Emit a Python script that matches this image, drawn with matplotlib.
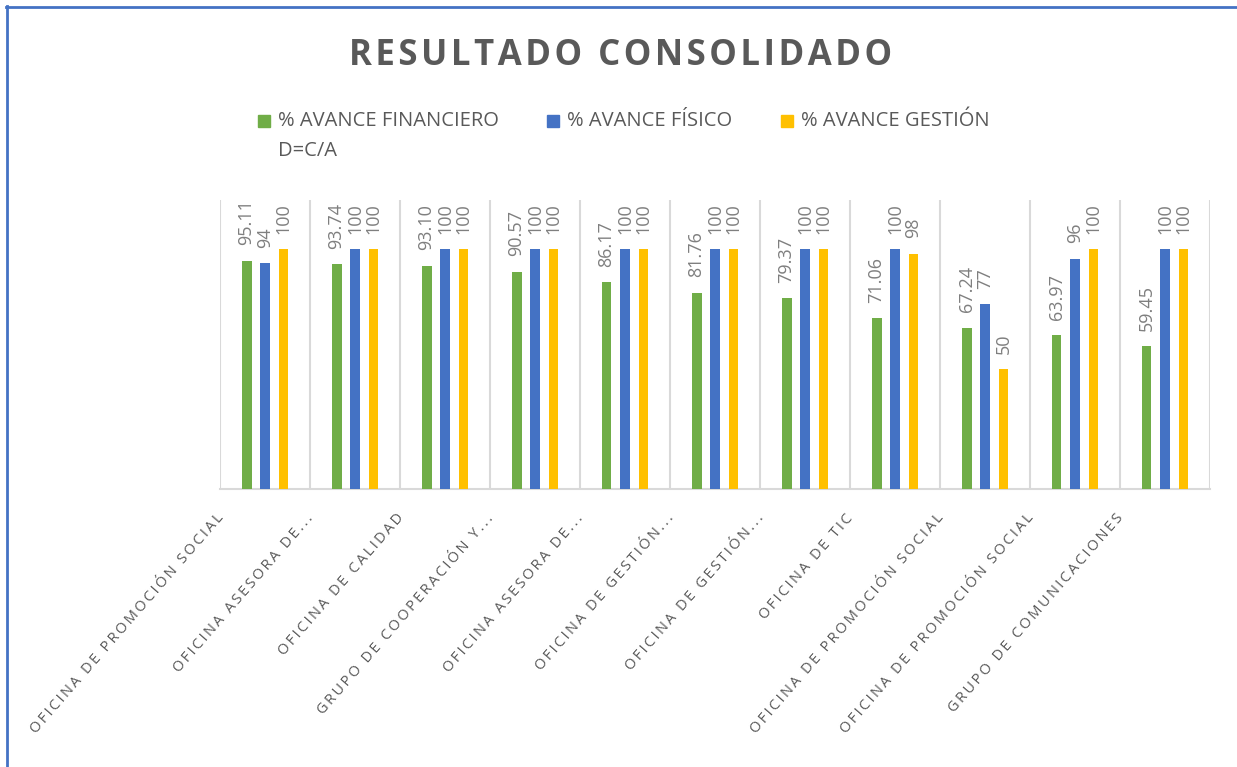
import numpy as np
import matplotlib.pyplot as plt
import matplotlib.transforms as mtransforms
from matplotlib.patches import Rectangle
from matplotlib.lines import Line2D

plt.rcParams['font.family'] = ['Open Sans', 'DejaVu Sans']

# Datos del gráfico
categorias = [
    'OFICINA DE PROMOCIÓN SOCIAL',
    'OFICINA ASESORA DE...',
    'OFICINA DE CALIDAD',
    'GRUPO DE COOPERACIÓN Y...',
    'OFICINA ASESORA DE...',
    'OFICINA DE GESTIÓN...',
    'OFICINA DE GESTIÓN...',
    'OFICINA DE TIC',
    'OFICINA DE PROMOCIÓN SOCIAL',
    'OFICINA DE PROMOCIÓN SOCIAL',
    'GRUPO DE COMUNICACIONES',
]
avance_financiero = [95.11, 93.74, 93.10, 90.57, 86.17, 81.76, 79.37, 71.06, 67.24, 63.97, 59.45]
avance_fisico = [94, 100, 100, 100, 100, 100, 100, 100, 77, 96, 100]
avance_gestion = [100, 100, 100, 100, 100, 100, 100, 98, 50, 100, 100]

series = [
    ('% AVANCE FINANCIERO\nD=C/A', avance_financiero, '#70AD47', '{:.2f}'),
    ('% AVANCE FÍSICO', avance_fisico, '#4472C4', '{:.0f}'),
    ('% AVANCE GESTIÓN', avance_gestion, '#FFC000', '{:.0f}'),
]

gris = '#595959'

fig = plt.figure(figsize=(12.37, 7.67), dpi=100)
ax = fig.add_axes([220 / 1237, 1 - 489 / 767, 990 / 1237, 289 / 767])

x = np.arange(len(categorias))
offsets = [-0.205, 0.0, 0.205]
for (nombre, vals, color, fmt), off in zip(series, offsets):
    barras = ax.bar(x + off, vals, width=0.11, color=color, zorder=3)
    ax.bar_label(barras, fmt=fmt, rotation=90, padding=11, fontsize=13,
                 color='#7F7F7F')

ax.set_xlim(-0.5, len(categorias) - 0.5)
ax.set_ylim(0, 120.4)
ax.set_yticks([])

# líneas verticales entre categorías
ax.set_xticks(np.arange(-0.5, len(categorias)), minor=True)
ax.grid(True, which='minor', axis='x', color='#D9D9D9', linewidth=1.5, zorder=0)
ax.tick_params(axis='x', which='both', length=0)
for s in ['top', 'left', 'right']:
    ax.spines[s].set_visible(False)
ax.spines['bottom'].set_color('#D9D9D9')
ax.spines['bottom'].set_linewidth(1.5)

# etiquetas del eje con espaciado entre letras
espaciadas = ['\u2009'.join(c) for c in categorias]
ax.set_xticks(x)
ax.set_xticklabels(espaciadas, rotation=49, ha='right', va='center',
                   rotation_mode='anchor', fontsize=10.5, color=gris)
desplazar = mtransforms.ScaledTranslation(-0.44, -0.22, fig.dpi_scale_trans)
for lbl in ax.get_xticklabels():
    lbl.set_transform(lbl.get_transform() + desplazar)

# título
fig.text(0.502, 1 - 56 / 767, '\u200a'.join('RESULTADO CONSOLIDADO'),
         ha='center', va='center', fontsize=25, fontweight='bold', color=gris)

# leyenda
leyenda_x = [258, 547, 781]
for (nombre, vals, color, fmt), lx in zip(series, leyenda_x):
    fig.add_artist(Rectangle((lx / 1237, 1 - 127 / 767), 12 / 1237, 12 / 767,
                             transform=fig.transFigure, color=color))
    fig.text((lx + 20) / 1237, 1 - 121 / 767, nombre.split('\n')[0],
             ha='left', va='center', fontsize=14.5, color=gris)
fig.text(278 / 1237, 1 - 151 / 767, 'D=C/A', ha='left', va='center',
         fontsize=14.5, color=gris)

# borde azul
fig.add_artist(Line2D([6.5 / 1237, 6.5 / 1237], [0, 1 - 6 / 767],
                      transform=fig.transFigure, color='#4472C4', linewidth=2))
fig.add_artist(Line2D([6 / 1237, 1], [1 - 6.5 / 767, 1 - 6.5 / 767],
                      transform=fig.transFigure, color='#4472C4', linewidth=2))

fig.savefig('out.png', dpi=100)
